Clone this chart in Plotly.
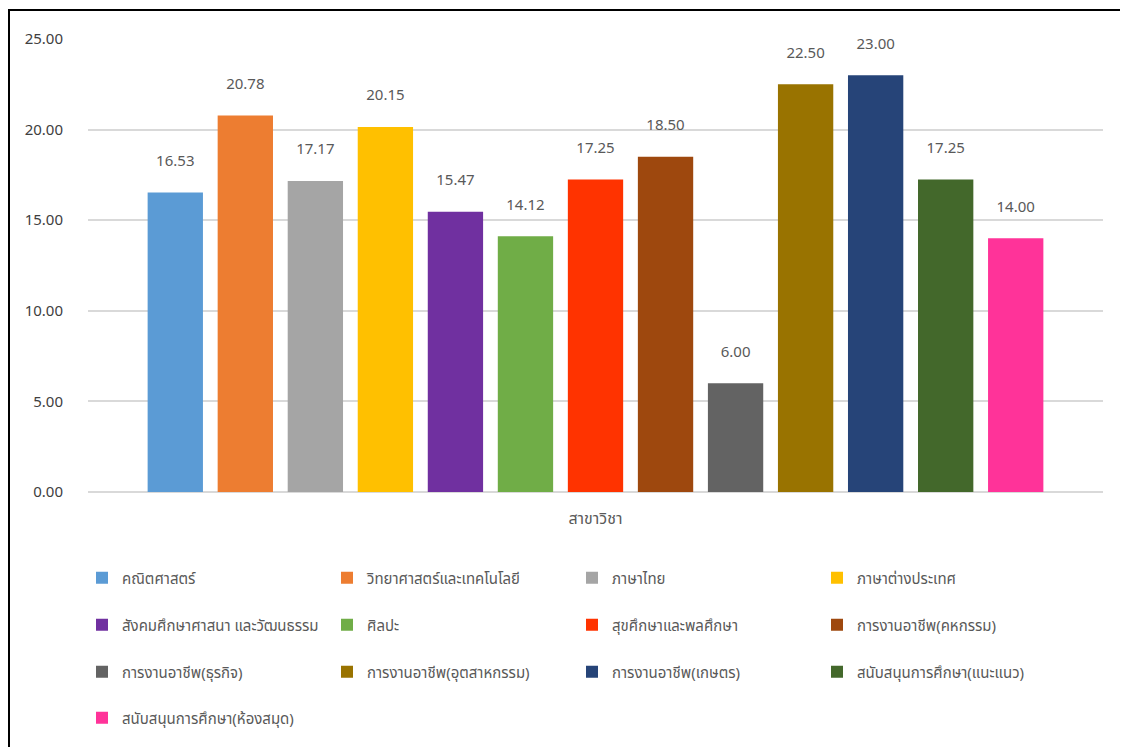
import plotly.graph_objects as go

category = ["สาขาวิชา"]
subjects = [
    "คณิตศาสตร์",
    "วิทยาศาสตร์และเทคโนโลยี",
    "ภาษาไทย",
    "ภาษาต่างประเทศ",
    "สังคมศึกษาศาสนา และวัฒนธรรม",
    "ศิลปะ",
    "สุขศึกษาและพลศึกษา",
    "การงานอาชีพ(คหกรรม)",
    "การงานอาชีพ(ธุรกิจ)",
    "การงานอาชีพ(อุตสาหกรรม)",
    "การงานอาชีพ(เกษตร)",
    "สนับสนุนการศึกษา(แนะแนว)",
    "สนับสนุนการศึกษา(ห้องสมุด)",
]
values = [16.53, 20.78, 17.17, 20.15, 15.47, 14.12, 17.25, 18.50, 6.00, 22.50, 23.00, 17.25, 14.00]
colors = ["#5B9BD5", "#ED7D31", "#A5A5A5", "#FFC000", "#7030A0", "#70AD47", "#FF3300",
          "#9E480E", "#636363", "#997300", "#264478", "#43682B", "#FF3399"]

FONT = "Tahoma, 'Leelawadee UI', 'Noto Sans Thai', 'Noto Sans', sans-serif"
TXT = "#595959"

# the page places the figure 8px in from the top-left corner
OFF = 8
W, H = 1128, 747
L, R, T, B = 88 - OFF, 25 + OFF, 39 - OFF, 255 + OFF
pw = W - L - R
ph = H - T - B

def px_x(x):
    return (x - OFF - L) / pw

def px_y(y):
    return (H - B - (y - OFF)) / ph

fig = go.Figure()
legend_names = ["legend", "legend2", "legend3", "legend4"]
for i, (name, v, c) in enumerate(zip(subjects, values, colors)):
    fig.add_trace(go.Bar(
        x=category, y=[v], name=name, marker_color=c, marker_line_width=0,
        text=[f"{v:.2f}<br><span style='font-size:8px'> </span>"],
        textposition="outside", cliponaxis=False,
        textfont=dict(size=15, color=TXT, family=FONT),
        legend=legend_names[i // 4],
    ))

row_y = [578, 625, 672, 718]
legend_common = dict(
    orientation="h", entrywidth=200, entrywidthmode="pixels",
    font=dict(size=15, color=TXT, family=FONT), bgcolor="rgba(0,0,0,0)",
    xanchor="left", yanchor="middle", itemsizing="constant",
    traceorder="normal",
)
layout_legends = {}
for k, ln in enumerate(legend_names):
    layout_legends[ln] = dict(legend_common, x=px_x(82), y=px_y(row_y[k]))

fig.update_layout(
    width=W, height=H,
    margin=dict(l=L, r=R, t=T, b=B),
    paper_bgcolor="white", plot_bgcolor="white",
    barmode="group", bargap=0.103, bargroupgap=0.21,
    font=dict(family=FONT, color=TXT, size=14),
    showlegend=True,
    xaxis=dict(showticklabels=False, showgrid=False, zeroline=False, showline=False,
               title=dict(text="สาขาวิชา", font=dict(size=16, color=TXT), standoff=20)),
    yaxis=dict(range=[0, 25], dtick=5, tickformat=".2f", showgrid=True,
               gridcolor="#D9D9D9", gridwidth=1.5, zeroline=True, zerolinecolor="#D9D9D9",
               zerolinewidth=1.5, showline=False, ticks="",
               tickfont=dict(size=15, color="#404040"), ticklabelstandoff=24),
    shapes=[dict(type="rect", xref="paper", yref="paper",
                 x0=px_x(9), x1=px_x(1300), y0=px_y(900), y1=px_y(10),
                 line=dict(color="black", width=2), fillcolor="rgba(0,0,0,0)", layer="above")],
    **layout_legends,
)

fig.write_html("out.html")
